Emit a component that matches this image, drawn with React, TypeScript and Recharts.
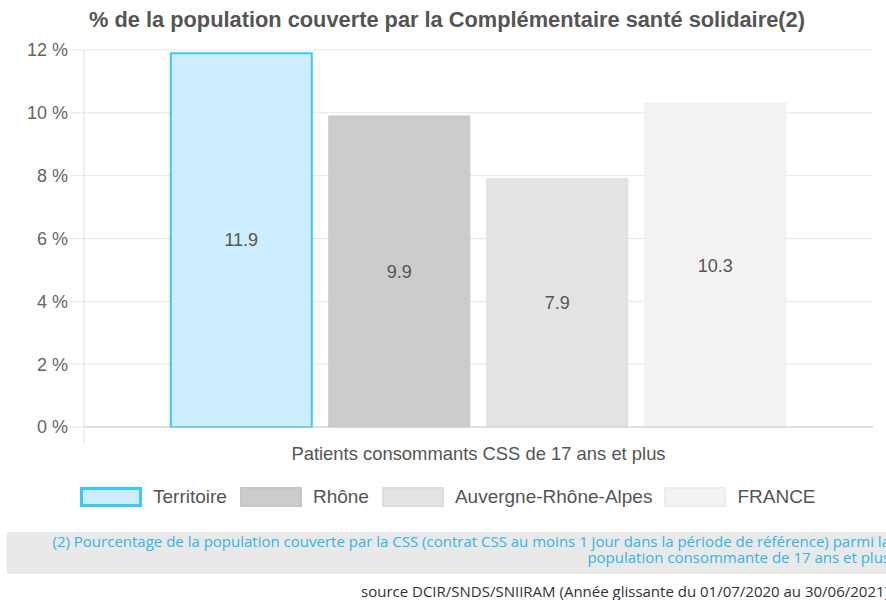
import React from "react";
import { BarChart, Bar, XAxis, YAxis, CartesianGrid, LabelList } from "recharts";

const title = "% de la population couverte par la Complémentaire santé solidaire(2)";
const category = "Patients consommants CSS de 17 ans et plus";
const seriesKeys = ["territoire", "rhone", "ara", "france"];
const seriesNames = ["Territoire", "Rhône", "Auvergne-Rhône-Alpes", "FRANCE"];
const seriesValues = [11.9, 9.9, 7.9, 10.3];
const seriesFills = ["#ccedfb", "#cccccc", "#e3e3e3", "#f3f3f3"];
const seriesStrokes = ["#3cc8f7", "#c6c6c6", "#dddddd", "#ececec"];
const seriesStrokeWidths = [2, 1, 1, 1];
const yTicks = [0, 2, 4, 6, 8, 10, 12];
const footnote =
  "(2) Pourcentage de la population couverte par la CSS (contrat CSS au moins 1 jour dans la période de référence) parmi la population consommante de 17 ans et plus";
const source = "source DCIR/SNDS/SNIIRAM (Année glissante du 01/07/2020 au 30/06/2021)";

const row: Record<string, string | number> = { cat: category };
seriesKeys.forEach((k, i) => {
  row[k] = seriesValues[i];
});
const data = [row];

const FONT = '"Liberation Sans", Arial, Helvetica, sans-serif';

const XTick = (props: any) => {
  const { x, y, payload } = props;
  const off = payload && payload.offset ? payload.offset : 0;
  return (
    <g>
      <line x1={x - off} x2={x - off} y1={y} y2={y + 14} stroke="#dddddd" strokeWidth={1} />
      <text x={x} y={y + 31} textAnchor="middle" fill="#555555" fontSize={18.4} fontFamily={FONT}>
        {payload.value}
      </text>
    </g>
  );
};

export default function App() {
  return (
    <div
      style={{
        position: "absolute",
        left: 0,
        top: 0,
        width: 886,
        height: 600,
        overflow: "hidden",
        background: "#ffffff",
        fontFamily: FONT,
      }}
    >
      <div
        style={{
          position: "absolute",
          left: 0,
          top: 8,
          width: 894,
          textAlign: "center",
          fontSize: 21.8,
          lineHeight: "24px",
          fontWeight: "bold",
          color: "#555555",
        }}
      >
        {title}
      </div>
      <div style={{ position: "absolute", left: 0, top: 0 }}>
        <BarChart
          width={886}
          height={470}
          data={data}
          margin={{ top: 50, right: 13, left: 0, bottom: 0 }}
          barCategoryGap="11%"
          barGap={17}
        >
          <CartesianGrid horizontal={true} vertical={false} stroke="#e6e6e6" />
          <XAxis
            dataKey="cat"
            height={43}
            axisLine={{ stroke: "#cccccc" }}
            tickLine={false}
            tickSize={0}
            tick={<XTick />}
            interval={0}
          />
          <YAxis
            width={84}
            domain={[0, 12]}
            ticks={yTicks}
            interval={0}
            axisLine={{ stroke: "#dddddd" }}
            tickLine={{ stroke: "#e6e6e6" }}
            tickSize={14}
            tickMargin={2}
            tickFormatter={(v: number) => `${v} %`}
            tick={{ fill: "#666666", fontSize: 18, fontFamily: FONT }}
          />
          {seriesKeys.map((k, i) => (
            <Bar
              key={k}
              dataKey={k}
              name={seriesNames[i]}
              fill={seriesFills[i]}
              stroke={seriesStrokes[i]}
              strokeWidth={seriesStrokeWidths[i]}
              isAnimationActive={false}
            >
              <LabelList
                dataKey={k}
                position="center"
                fill="#555555"
                fontSize={18}
                fontFamily={FONT}
                formatter={(v: number) => v.toFixed(1)}
              />
            </Bar>
          ))}
        </BarChart>
      </div>
      <div
        style={{
          position: "absolute",
          left: 80,
          top: 487,
          display: "flex",
          alignItems: "center",
          height: 20,
        }}
      >
        {seriesNames.map((n, i) => (
          <div key={n} style={{ display: "flex", alignItems: "center", marginRight: i === 2 ? 12 : 13 }}>
            <div
              style={{
                width: 62,
                height: 20,
                boxSizing: "border-box",
                background: seriesFills[i],
                border: `${seriesStrokeWidths[i] + 1}px solid ${seriesStrokes[i]}`,
              }}
            />
            <span style={{ marginLeft: 11, fontSize: 19, color: "#555555", lineHeight: "20px" }}>{n}</span>
          </div>
        ))}
      </div>
      <div
        style={{
          position: "absolute",
          left: 7,
          top: 532,
          width: 883,
          height: 42,
          background: "#e9e9e9",
          boxSizing: "border-box",
          padding: "1px 0 0 30px",
          textAlign: "right",
          fontFamily: '"Open Sans", sans-serif',
          fontSize: 15,
          lineHeight: "16px",
          color: "#33b5ea",
        }}
      >
        {footnote}
      </div>
      <div
        style={{
          position: "absolute",
          left: 0,
          top: 582,
          width: 889,
          textAlign: "right",
          fontFamily: '"Open Sans", sans-serif',
          fontSize: 15,
          lineHeight: "18px",
          color: "#333333",
        }}
      >
        {source}
      </div>
    </div>
  );
}
